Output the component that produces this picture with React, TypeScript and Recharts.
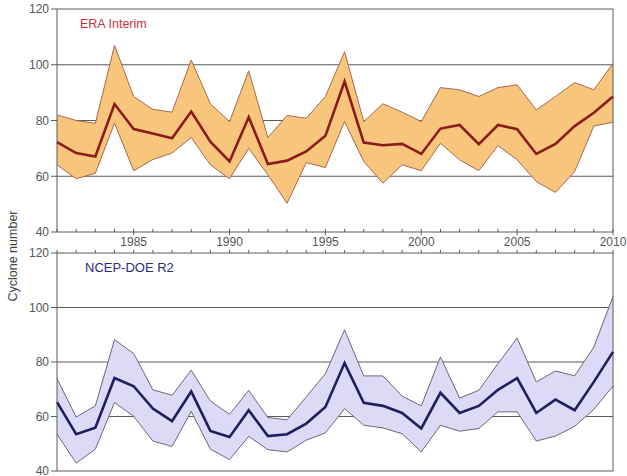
import {
  ComposedChart,
  Area,
  Line,
  XAxis,
  YAxis,
  CartesianGrid,
  ReferenceLine,
} from "recharts";

const years = [
  1981, 1982, 1983, 1984, 1985, 1986, 1987, 1988, 1989, 1990,
  1991, 1992, 1993, 1994, 1995, 1996, 1997, 1998, 1999, 2000,
  2001, 2002, 2003, 2004, 2005, 2006, 2007, 2008, 2009, 2010,
];

// ERA Interim: mean and spread
const eraMean = [
  72.2, 68.3, 67.1, 85.9, 76.9, 75.3, 73.6, 83.2, 72.4, 65.3,
  81.2, 64.4, 65.6, 68.9, 74.5, 94.0, 72.1, 71.1, 71.6, 68.0,
  77.1, 78.4, 71.5, 78.4, 76.9, 68.0, 71.6, 78.0, 82.8, 88.6,
];
const eraHigh = [
  82, 80, 79, 106.9, 88.6, 84, 83, 101.7, 86, 79.6,
  97.8, 73.9, 81.8, 80.8, 88.6, 104.7, 79.6, 86, 83, 79.6,
  91.8, 91, 88.6, 91.8, 92.8, 83.8, 88.6, 93.6, 91, 100.5,
];
const eraLow = [
  64.1, 59.1, 61.1, 79, 62, 66, 68.3, 73.9, 64.1, 59.1,
  70, 60.5, 50.3, 64.9, 63.1, 79.6, 65.3, 57.5, 64.1, 62,
  71.8, 65.9, 62, 71, 65.9, 58.1, 54.2, 61.7, 78, 79.4,
];

// NCEP-DOE R2: mean and spread
const ncepMean = [
  65.3, 53.5, 55.9, 74.1, 71.1, 62.9, 58.3, 69.2, 54.7, 52.5,
  62.3, 52.8, 53.5, 57.4, 63.5, 79.6, 65, 63.9, 61.3, 55.6,
  68.7, 61.3, 63.9, 69.8, 74.1, 61.3, 66.2, 62.3, 72.7, 83.7,
];
const ncepHigh = [
  73.9, 59.8, 63.9, 88.2, 83.1, 69.8, 67.8, 77, 65.7, 60.8,
  69.6, 59.6, 58.8, 67.2, 75.7, 91.8, 74.9, 74.9, 67.5, 63.9,
  81.8, 66.8, 69.6, 79.4, 88.8, 72.7, 76.7, 74.9, 85.5, 104,
];
const ncepLow = [
  53.5, 42.9, 48, 65.1, 60.1, 51, 49, 61.9, 48, 44.2,
  52.7, 47.8, 47, 51.3, 54, 62.9, 56.8, 55.8, 53.7, 47,
  56.8, 54.6, 55.6, 61.7, 61.7, 51, 52.8, 56.4, 62.6, 71.2,
];

const yTicks = [40, 60, 80, 100, 120];
const labelYears = [1985, 1990, 1995, 2000, 2005, 2010];

const eraData = years.map((year, i) => ({
  year,
  mean: eraMean[i],
  band: [eraLow[i], eraHigh[i]],
}));
const ncepData = years.map((year, i) => ({
  year,
  mean: ncepMean[i],
  band: [ncepLow[i], ncepHigh[i]],
}));

const AXIS = "#5a5a5a";
const FONT = "'Liberation Sans', Arial, sans-serif";

// year ticks on the bottom edge of the upper panel: minor marks point inward
function BottomTick(props: any) {
  const { x, y, payload } = props;
  const major = labelYears.includes(payload.value);
  return (
    <g>
      <line x1={x} x2={x} y1={y} y2={y - 3} stroke={AXIS} />
      {major && <line x1={x} x2={x} y1={y} y2={y + 3} stroke={AXIS} />}
      {major && (
        <text x={x} y={y + 14} textAnchor="middle" fill="#555" fontSize={12} fontFamily={FONT}>
          {payload.value}
        </text>
      )}
    </g>
  );
}

// year ticks on the top edge of the lower panel, pointing up
function TopTick(props: any) {
  const { x, y } = props;
  return <line x1={x} x2={x} y1={y} y2={y - 3} stroke={AXIS} />;
}

function Panel({
  data,
  fill,
  edge,
  lineColor,
  top,
  height,
  margin,
  axisOnTop,
}: {
  data: any[];
  fill: string;
  edge: string;
  lineColor: string;
  top: number;
  height: number;
  margin: { top: number; right: number; left: number; bottom: number };
  axisOnTop: boolean;
}) {
  return (
    <div style={{ position: "absolute", left: 0, top }}>
      <ComposedChart width={627} height={height} data={data} margin={margin}>
        <CartesianGrid vertical={false} stroke={AXIS} strokeWidth={1} />
        {axisOnTop ? (
          <XAxis
            dataKey="year"
            type="number"
            domain={[1981, 2010]}
            ticks={years}
            orientation="top"
            height={1}
            axisLine={false}
            tickLine={false}
            tickSize={0}
            tickMargin={0}
            tick={<TopTick />}
            interval={0}
          />
        ) : (
          <XAxis
            dataKey="year"
            type="number"
            domain={[1981, 2010]}
            ticks={years}
            height={18}
            axisLine={false}
            tickLine={false}
            tickSize={0}
            tickMargin={0}
            tick={<BottomTick />}
            interval={0}
          />
        )}
        <YAxis
          domain={[40, 120]}
          ticks={yTicks}
          width={57}
          axisLine={{ stroke: AXIS }}
          tickLine={{ stroke: AXIS }}
          tickSize={6}
          tickMargin={2}
          tick={{ fill: "#555", fontSize: 12, fontFamily: FONT }}
          interval={0}
        />
        <ReferenceLine x={2010} stroke={AXIS} />
        <Area
          dataKey="band"
          type="linear"
          fill={fill}
          fillOpacity={1}
          stroke={edge}
          strokeWidth={1}
          isAnimationActive={false}
          dot={false}
          activeDot={false}
        />
        <Line
          dataKey="mean"
          type="linear"
          stroke={lineColor}
          strokeWidth={2.6}
          dot={false}
          activeDot={false}
          isAnimationActive={false}
        />
      </ComposedChart>
    </div>
  );
}

export default function App() {
  return (
    <div
      style={{
        position: "absolute",
        left: 0,
        top: 0,
        width: 627,
        height: 476,
        background: "#fff",
        overflow: "hidden",
        fontFamily: FONT,
      }}
    >
      <Panel
        data={ncepData}
        fill="#dcdaf6"
        edge="#686878"
        lineColor="#221d5e"
        top={240}
        height={236}
        margin={{ top: 12, right: 14, left: 0, bottom: 5 }}
        axisOnTop
      />
      <Panel
        data={eraData}
        fill="#f7c57c"
        edge="#a8684a"
        lineColor="#8c1c1c"
        top={0}
        height={250}
        margin={{ top: 9, right: 14, left: 0, bottom: 0 }}
        axisOnTop={false}
      />
      <div
        style={{
          position: "absolute",
          left: 80,
          top: 17,
          fontSize: 12.5,
          color: "#c8303c",
        }}
      >
        ERA Interim
      </div>
      <div
        style={{
          position: "absolute",
          left: 85,
          top: 260,
          fontSize: 13,
          color: "#2d2a7a",
        }}
      >
        NCEP-DOE R2
      </div>
      <div
        style={{
          position: "absolute",
          left: 13,
          top: 256,
          fontSize: 12.5,
          color: "#444",
          whiteSpace: "nowrap",
          transform: "translate(-50%, -50%) rotate(-90deg)",
        }}
      >
        Cyclone number
      </div>
    </div>
  );
}
